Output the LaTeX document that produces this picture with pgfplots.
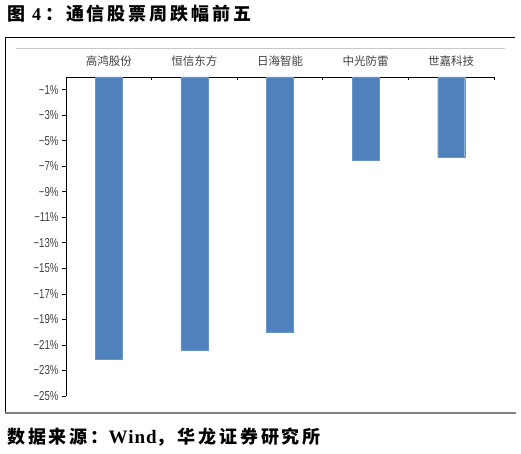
\documentclass[border=0pt]{standalone}
\usepackage{fontspec}
\usepackage{pgfplots}
\pgfplotsset{compat=1.18}
\setmainfont{Liberation Serif}
\newfontfamily\cjk{Noto Sans CJK SC}
\newfontfamily\cjkt{Noto Sans CJK SC}[LetterSpace=16]
\newfontfamily\serift{Liberation Serif}[LetterSpace=5]
\newfontfamily\narrow{Liberation Sans}[FakeStretch=0.74]
\definecolor{barblue}{HTML}{4F81BD}
\definecolor{framegray}{HTML}{808080}
\definecolor{linegray}{HTML}{C8C8C8}
\definecolor{labelgray}{HTML}{404040}

\begin{document}
\begin{tikzpicture}[x=1pt,y=1pt]
\begin{axis}[
  scale only axis, width=428pt, height=319pt,
  xmin=-0.5, xmax=4.5, ymin=-25, ymax=0,
  axis x line=top, axis y line=left,
  axis line style={-, black, line width=0.8pt},
  xtick={0,...,4},
  xticklabels={高鸿股份,恒信东方,日海智能,中光防雷,世嘉科技},
  major x tick style={draw=none},
  minor xtick={-0.5,0.5,...,4.5},
  minor x tick style={yshift=-3pt, black, line width=0.8pt},
  minor tick length=3pt,
  major tick length=4pt,
  tick align=outside,
  ytick={-1,-3,...,-25},
  yticklabels={−1\%,−3\%,−5\%,−7\%,−9\%,−11\%,−13\%,−15\%,−17\%,−19\%,−21\%,−23\%,−25\%},
  y tick style={black, line width=0.8pt},
  xticklabel style={font=\cjk\fontsize{11.5}{12}\selectfont, text=labelgray, yshift=3pt},
  yticklabel style={font=\narrow\fontsize{13}{13}\selectfont, text=labelgray},
  ybar, bar width=27pt,
]
\addplot[fill=barblue, draw=barblue!85!white] coordinates {
  (0,-22.1) (1,-21.4) (2,-20.0) (3,-6.55) (4,-6.3)};
\coordinate (sw) at (axis cs:-0.5,-25);
\end{axis}
\begin{scope}[shift={(sw)}]
\path (-66,-58) rectangle (455,396);
% title and source
\node[anchor=west, inner sep=0pt] at (-59,382)
  {\fontsize{18}{18}\selectfont\bfseries{\cjkt 图}\hspace{7pt}{\serift 4}\hspace{4pt}{\cjkt ：通信股票周跌幅前五}};
\node[anchor=west, inner sep=0pt] at (-59,-41)
  {\fontsize{18}{18}\selectfont\bfseries{\cjkt 数据来源：}{\fontsize{19}{19}\selectfont\serift Wind}{\cjkt ，华龙证券研究所}};
% frame
\draw[black, line width=1pt] (-61,358) -- (449,358);
\draw[black, line width=0.8pt] (-61,358) -- (-61,-17);
\draw[framegray, line width=1.5pt] (-61,-17) -- (450,-17);
\draw[linegray, line width=0.7pt] (-50,348) -- (439,348);
\end{scope}
\end{tikzpicture}
\end{document}
